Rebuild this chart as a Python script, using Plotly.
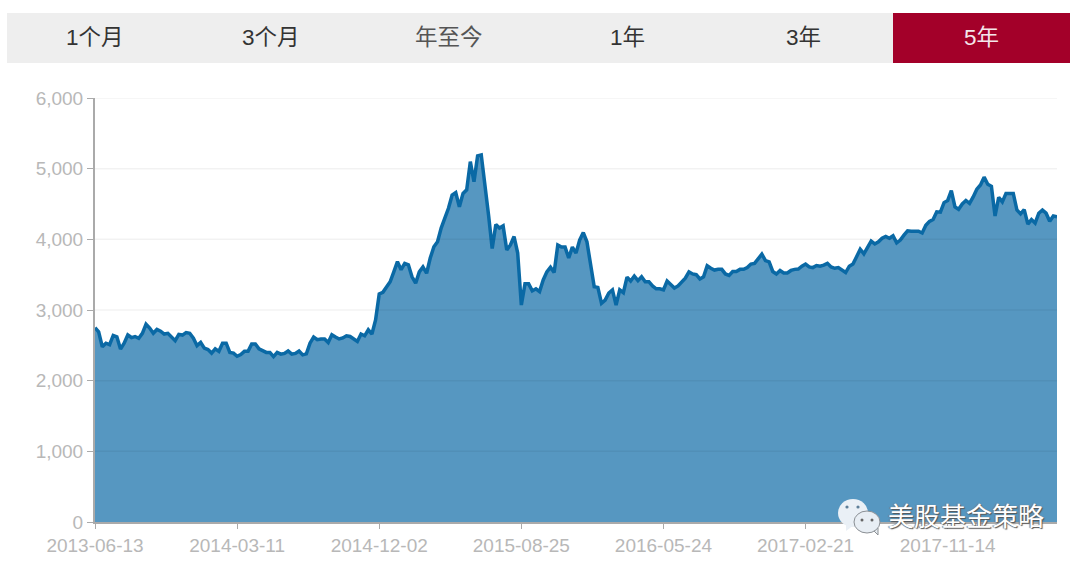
import plotly.graph_objects as go

tick_labels = ["2013-06-13", "2014-03-11", "2014-12-02", "2015-08-25", "2016-05-24", "2017-02-21", "2017-11-14"]
tick_positions = [0, 39, 78, 117, 156, 195, 234]
y_ticks = [0, 1000, 2000, 3000, 4000, 5000, 6000]
tab_labels = ["1个月", "3个月", "年至今", "1年", "3年", "5年"]
watermark = "美股基金策略"

values = [
    2750, 2690, 2480, 2530, 2510, 2640, 2620, 2447, 2530, 2646,
    2610, 2625, 2600, 2670, 2800, 2745, 2670, 2725, 2700, 2660,
    2670, 2610, 2565, 2655, 2645, 2680, 2670, 2600, 2495, 2540,
    2460, 2440, 2390, 2450, 2415, 2530, 2530, 2400, 2390, 2345,
    2370, 2415, 2415, 2520, 2520, 2450, 2425, 2400, 2400, 2340,
    2400, 2375, 2385, 2420, 2375, 2385, 2420, 2365, 2380, 2530,
    2618, 2580, 2590, 2590, 2540, 2650, 2618, 2590, 2605, 2635,
    2625, 2590, 2555, 2660, 2635, 2720, 2660, 2860, 3226, 3250,
    3330, 3400, 3540, 3684, 3570, 3660, 3640, 3470, 3380, 3540,
    3610, 3520, 3735, 3895, 3965, 4160, 4300, 4440, 4625, 4660,
    4460, 4650, 4700, 5100, 4815, 5180, 5195, 4790, 4345, 3870,
    4210, 4160, 4190, 3850, 3920, 4040, 3805, 3070, 3370, 3370,
    3270, 3300, 3260, 3425, 3540, 3605, 3530, 3920, 3890, 3890,
    3735, 3890, 3805, 3990, 4095, 3965, 3610, 3330, 3320, 3095,
    3140, 3240, 3285, 3070, 3285, 3245, 3465, 3410, 3480, 3415,
    3470, 3400, 3400, 3340, 3300, 3300, 3285, 3410, 3360, 3310,
    3340, 3400, 3450, 3540, 3510, 3500, 3440, 3470, 3625, 3590,
    3565, 3575, 3575, 3510, 3490, 3545, 3545, 3575, 3575, 3600,
    3650, 3660, 3735, 3790, 3700, 3680, 3545, 3510, 3560, 3525,
    3525, 3560, 3575, 3580, 3620, 3650, 3610, 3600, 3630, 3620,
    3635, 3660, 3610, 3590, 3600, 3570, 3530, 3620, 3650, 3755,
    3860, 3795, 3875, 3975, 3935, 3965, 4015, 4040, 4015, 4050,
    3950, 3990, 4060, 4120, 4115, 4115, 4115, 4090, 4200, 4255,
    4280, 4390, 4385, 4520, 4550, 4690, 4460, 4425, 4500, 4550,
    4510, 4600, 4710, 4770, 4880, 4780, 4750, 4330, 4595, 4530,
    4650, 4650, 4650, 4415, 4360, 4420, 4215, 4280, 4230, 4370,
    4415, 4370, 4255, 4330, 4320,
]
weeks = list(range(len(values)))

W, H = 1080, 565
L, R, T, B = 95, 1057, 98, 522
FONT = "Liberation Sans, Noto Sans CJK SC, sans-serif"

def px(x):
    return (x - L) / (R - L)

def py(y):
    return (B - y) / (B - T)

fig = go.Figure(go.Scatter(
    x=weeks, y=values, mode="lines", fill="tozeroy",
    line=dict(color="#0a69a5", width=3.5),
    fillcolor="rgba(10,105,165,0.69)", hoverinfo="skip",
))

shapes = []
annotations = []

for v in y_ticks[1:]:
    shapes.append(dict(type="line", xref="paper", yref="y", x0=0, x1=1, y0=v, y1=v,
                       line=dict(color="rgba(0,0,0,0.05)", width=1.5), layer="above"))

def rect(x0, y0, x1, y1, color):
    shapes.append(dict(type="rect", xref="paper", yref="paper", x0=px(x0), x1=px(x1),
                       y0=py(y0), y1=py(y1), fillcolor=color, line=dict(width=0), layer="above"))

rect(7, 13, 1070, 63, "#eeeeee")
rect(893, 13, 1070, 63, "#a30029")

tab_centers = [95, 271, 449, 627, 803, 981]
tab_colors = ["#333333", "#333333", "#555555", "#333333", "#333333", "#f4e6ea"]
for text, cx, col in zip(tab_labels, tab_centers, tab_colors):
    annotations.append(dict(text=text, xref="paper", yref="paper", x=px(cx), y=py(38),
                            showarrow=False, xanchor="center", yanchor="middle",
                            font=dict(size=22.5, color=col, family=FONT)))

def circle(cx, cy, rx, ry, fill, line="rgba(0,0,0,0)", w=0):
    shapes.append(dict(type="circle", xref="paper", yref="paper", x0=px(cx - rx), x1=px(cx + rx),
                       y0=py(cy + ry), y1=py(cy - ry), fillcolor=fill,
                       line=dict(color=line, width=w), layer="above"))

def tail(x0, y0, x1, y1, x2, y2, fill, line="rgba(0,0,0,0)", w=0):
    shapes.append(dict(type="path", xref="paper", yref="paper",
                       path=f"M {px(x0)} {py(y0)} L {px(x1)} {py(y1)} L {px(x2)} {py(y2)} Z",
                       fillcolor=fill, line=dict(color=line, width=w), layer="above"))

tail(846, 522, 846, 531, 854, 525, "#eaf0f6")
circle(853, 513, 15, 14, "#eaf0f6")
tail(873, 530, 878, 535, 878, 528, "#e8edf2", "#8a8f94", 1)
circle(867, 522, 13, 11, "#e8eef4", "#8a8f94", 1)
for cx, cy, col, r in [(847, 507, "#5f7f99", 1.6), (858, 507, "#5f7f99", 1.6),
                       (862, 520, "#666666", 1.5), (872, 520, "#666666", 1.5)]:
    circle(cx, cy, r, r, col)

annotations.append(dict(text=watermark, xref="paper", yref="paper", x=px(966), y=py(517),
                        showarrow=False, xanchor="center", yanchor="middle",
                        font=dict(size=26, color="#ffffff", family=FONT,
                                  shadow="1px 1px 1px #555, -1px 0px 1px #777")))

fig.update_layout(
    width=W, height=H,
    margin=dict(l=L, r=W - R, t=T, b=H - B, pad=0, autoexpand=False),
    paper_bgcolor="#ffffff", plot_bgcolor="#ffffff",
    showlegend=False, shapes=shapes, annotations=annotations,
    font=dict(family=FONT),
    xaxis=dict(range=[0, len(values) - 1], tickmode="array", tickvals=tick_positions,
               ticktext=tick_labels, ticks="outside", ticklen=5, tickcolor="#aaaaaa", tickwidth=1,
               showgrid=False, zeroline=False, showline=True, linecolor="#aaaaaa", linewidth=2,
               automargin=False,
               tickfont=dict(size=19, color="#b8b8b8", family=FONT)),
    yaxis=dict(range=[0, 6000], tickmode="array", tickvals=y_ticks, tickformat=",",
               ticks="outside", ticklen=6, tickcolor="#aaaaaa", tickwidth=1,
               showgrid=False, zeroline=False, automargin=False,
               showline=True, linecolor="#aaaaaa", linewidth=2,
               tickfont=dict(size=19, color="#b8b8b8", family=FONT)),
)

fig.write_html("out.html", config=dict(displayModeBar=False),
               post_script="document.body.style.margin='0';")
